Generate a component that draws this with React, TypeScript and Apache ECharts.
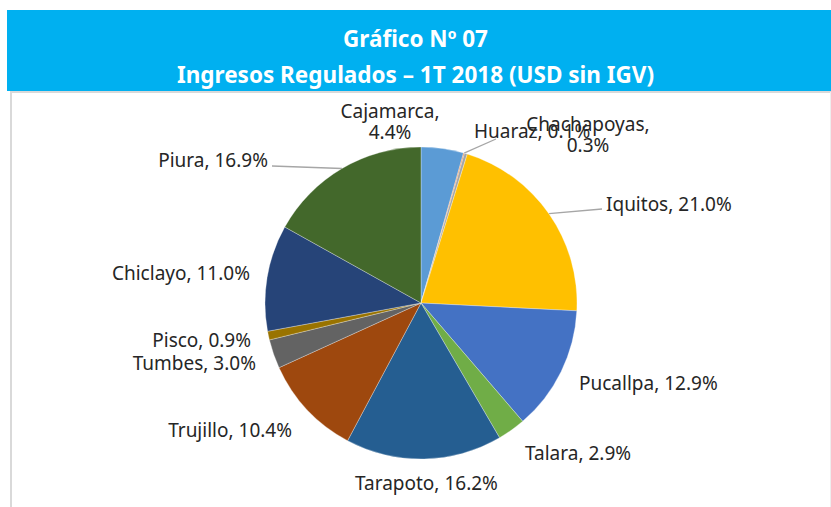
import React, { useEffect, useRef } from "react";
import * as echarts from "echarts";

const categories = [
  "Cajamarca",
  "Huaraz",
  "Chachapoyas",
  "Iquitos",
  "Pucallpa",
  "Talara",
  "Tarapoto",
  "Trujillo",
  "Tumbes",
  "Pisco",
  "Chiclayo",
  "Piura",
];
const shares = [4.4, 0.1, 0.3, 21.0, 12.9, 2.9, 16.2, 10.4, 3.0, 0.9, 11.0, 16.9];
const sliceColors = [
  "#5B9BD5",
  "#ED7D31",
  "#A5A5A5",
  "#FFC000",
  "#4472C4",
  "#70AD47",
  "#255E91",
  "#9E480E",
  "#636363",
  "#997300",
  "#264478",
  "#43682B",
];
const titleLine1 = "Gráfico Nº 07";
const titleLine2 = "Ingresos Regulados – 1T 2018 (USD sin IGV)";
const wrappedNames = ["Cajamarca", "Chachapoyas"];
const leaderNames = ["Huaraz", "Iquitos", "Piura"];

// label placement (layout only): [x, y, align, lineEndX, lineEndY]
const labelPlacement: Record<string, [number, number, string, number?, number?]> = {
  Cajamarca: [390, 121, "center"],
  Huaraz: [474, 131, "left", 496, 139],
  Chachapoyas: [588, 134, "center"],
  Iquitos: [606, 204, "left", 602, 209],
  Pucallpa: [579, 383, "left"],
  Talara: [525, 453, "left"],
  Tarapoto: [355, 483, "left"],
  Trujillo: [292, 430, "right"],
  Tumbes: [256, 363, "right"],
  Pisco: [251, 340, "right"],
  Chiclayo: [250, 273, "right"],
  Piura: [268, 160, "right", 272, 166],
};

const FONT = "'Noto Sans', 'DejaVu Sans', sans-serif";

export default function App() {
  const ref = useRef<HTMLDivElement>(null);
  useEffect(() => {
    document.body.style.margin = "0";
    if (!ref.current) return;
    const chart = echarts.init(ref.current, null, { renderer: "svg" });
    const data = categories.map((name, i) => ({
      name,
      value: shares[i],
      labelLine: { show: leaderNames.includes(name) },
    }));
    const titleStyle = {
      color: "#ffffff",
      fontFamily: FONT,
      fontWeight: "bold",
      fontSize: 22.5,
      lineHeight: 26,
    };
    chart.setOption({
      animation: false,
      backgroundColor: "#ffffff",
      color: sliceColors,
      title: [
        { text: titleLine1, left: "center", top: 25, padding: 0, textStyle: titleStyle },
        { text: titleLine2, left: "center", top: 61, padding: 0, textStyle: titleStyle },
      ],
      graphic: [
        {
          type: "rect",
          z: -10,
          silent: true,
          shape: { x: 7, y: 10, width: 824, height: 81 },
          style: { fill: "#00B0F0" },
        },
        {
          type: "line",
          silent: true,
          shape: { x1: 11, y1: 92, x2: 831, y2: 92 },
          style: { stroke: "#d9d9d9", lineWidth: 2 },
        },
        {
          type: "line",
          silent: true,
          shape: { x1: 11, y1: 91, x2: 11, y2: 507 },
          style: { stroke: "#d9d9d9", lineWidth: 2 },
        },
        {
          type: "line",
          silent: true,
          shape: { x1: 830.5, y1: 92, x2: 830.5, y2: 507 },
          style: { stroke: "#eeeeee", lineWidth: 1 },
        },
      ],
      series: [
        {
          type: "pie",
          center: [421, 303],
          radius: 156,
          startAngle: 90,
          clockwise: true,
          avoidLabelOverlap: false,
          data,
          itemStyle: {
            borderColor: "rgba(255,255,255,0.5)",
            borderWidth: 0.6,
          },
          label: {
            show: true,
            position: "outside",
            fontFamily: FONT,
            fontSize: 19,
            lineHeight: 21,
            color: "#262626",
            formatter: (p: any) => {
              const v = Number(p.value).toFixed(1) + "%";
              return wrappedNames.includes(p.name) ? `${p.name},\n${v}` : `${p.name}, ${v}`;
            },
          },
          labelLine: {
            show: false,
            length: 10,
            length2: 10,
            lineStyle: { color: "#a6a6a6", width: 1.3 },
          },
          labelLayout: (params: any) => {
            const name = categories[params.dataIndex];
            const pl = labelPlacement[name];
            if (!pl) return {};
            const out: any = {
              x: pl[0],
              y: pl[1],
              align: pl[2],
              verticalAlign: "middle",
            };
            if (pl[3] !== undefined && params.labelLinePoints && params.labelLinePoints[0]) {
              out.labelLinePoints = [params.labelLinePoints[0], [pl[3], pl[4]]];
            }
            return out;
          },
          emphasis: { disabled: true },
        },
      ],
    });
    return () => chart.dispose();
  }, []);
  return <div ref={ref} style={{ width: 831, height: 507 }} />;
}
